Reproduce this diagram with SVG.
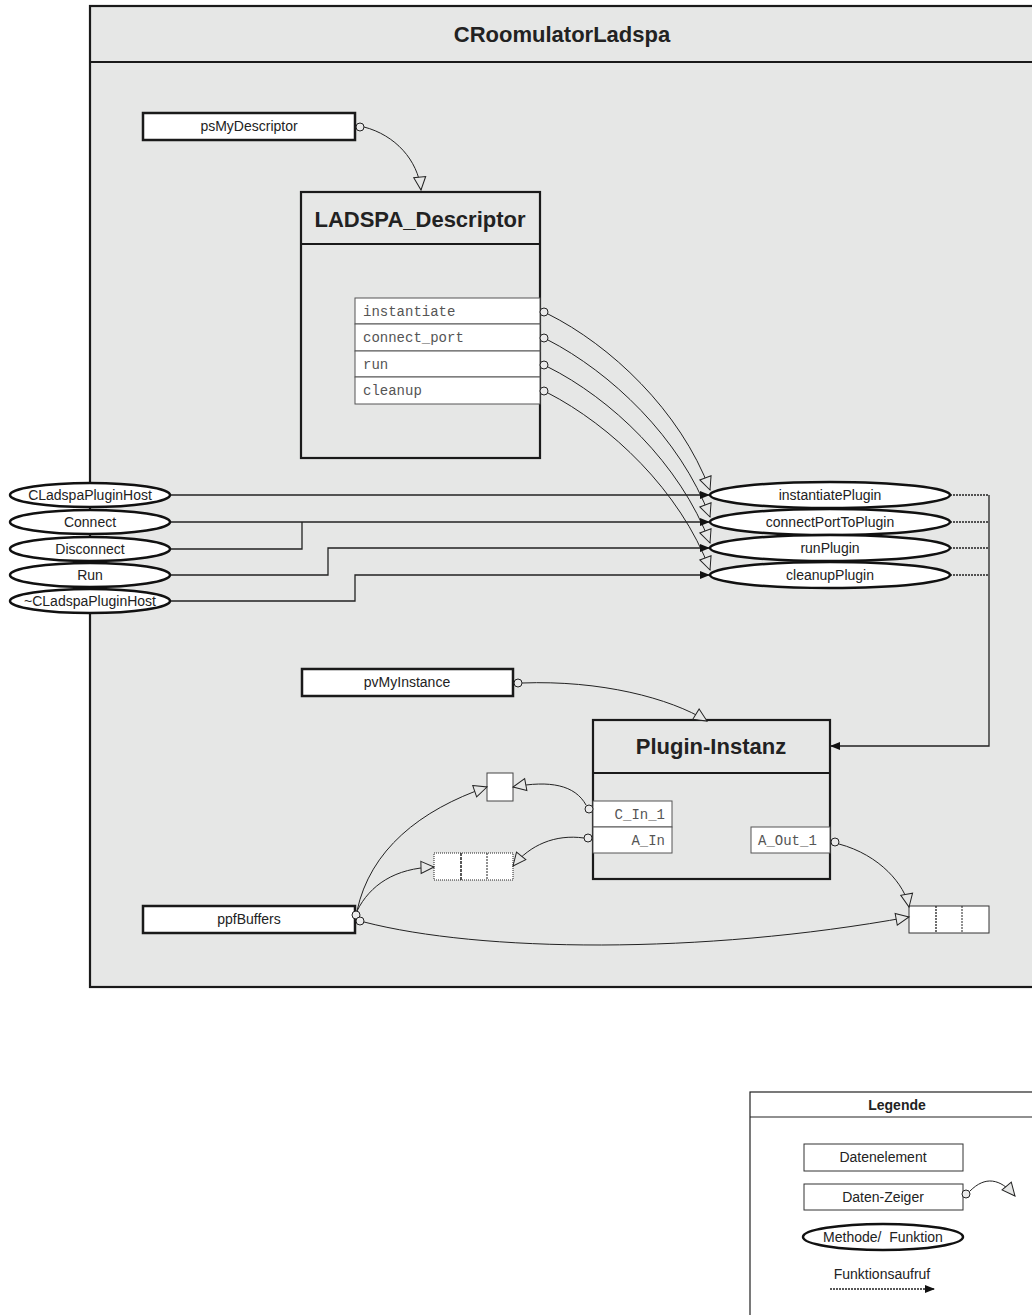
<svg xmlns="http://www.w3.org/2000/svg" width="1032" height="1315" viewBox="0 0 1032 1315">
<defs>
<marker id="open" markerUnits="userSpaceOnUse" markerWidth="16" markerHeight="16" refX="14" refY="7" orient="auto" overflow="visible"><path d="M1,1 L14,7 L1,13 Z" fill="#e6e7e6" stroke="#222" stroke-width="1"/></marker>
<marker id="fill" markerUnits="userSpaceOnUse" markerWidth="12" markerHeight="10" refX="10" refY="4" orient="auto" overflow="visible"><path d="M0,0 L10,4 L0,8 Z" fill="#111"/></marker>
</defs>
<style>
.box{fill:#e6e7e6;stroke:#1a1a1a;stroke-width:2.2}
.data{fill:#fff;stroke:#1a1a1a;stroke-width:2.5}
.row{fill:#fff;stroke:#555;stroke-width:1}
.ell{fill:#fff;stroke:#111;stroke-width:2.5}
.pin{fill:#eaeaea;stroke:#222;stroke-width:1}
.ptr{fill:none;stroke:#222;stroke-width:1;marker-end:url(#open)}
.call{fill:none;stroke:#222;stroke-width:1.3;marker-end:url(#fill)}
.ln{fill:none;stroke:#222;stroke-width:1.3}
.dash{fill:none;stroke:#222;stroke-width:1.3;stroke-dasharray:2 1}
.t{font-family:"Liberation Sans",Arial,sans-serif;font-size:14px;fill:#222;text-anchor:middle}
.h{font-family:"Liberation Sans",Arial,sans-serif;font-size:22px;font-weight:bold;fill:#222;text-anchor:middle}
.m{font-family:"Liberation Mono","Courier New",monospace;font-size:14px;fill:#555}
</style>
<rect x="0" y="0" width="1032" height="1315" fill="#fff"/>

<g id="CRoomulatorLadspa">
<rect class="box" x="90" y="6" width="970" height="981"/>
<line x1="90" y1="62" x2="1060" y2="62" stroke="#1a1a1a" stroke-width="2.2"/>
<text class="h" x="562" y="42">CRoomulatorLadspa</text>
</g>

<g id="psMyDescriptor">
<rect class="data" x="143" y="113" width="212" height="27"/>
<text class="t" x="249" y="131">psMyDescriptor</text>
</g>

<g id="LADSPA_Descriptor">
<rect class="box" x="301" y="192" width="239" height="266"/>
<line x1="301" y1="244" x2="540" y2="244" stroke="#1a1a1a" stroke-width="2.2"/>
<text class="h" x="420" y="227">LADSPA_Descriptor</text>
<rect class="row" x="355" y="298" width="185" height="26"/>
<rect class="row" x="355" y="324" width="185" height="27"/>
<rect class="row" x="355" y="351" width="185" height="26"/>
<rect class="row" x="355" y="377" width="185" height="27"/>
<text class="m" x="363" y="316">instantiate</text>
<text class="m" x="363" y="342">connect_port</text>
<text class="m" x="363" y="369">run</text>
<text class="m" x="363" y="395">cleanup</text>
</g>

<g id="pvMyInstance">
<rect class="data" x="302" y="669" width="211" height="27"/>
<text class="t" x="407" y="687">pvMyInstance</text>
</g>

<g id="Plugin-Instanz">
<rect class="box" x="593" y="720" width="237" height="159"/>
<line x1="593" y1="773" x2="830" y2="773" stroke="#1a1a1a" stroke-width="2.2"/>
<text class="h" x="711" y="754">Plugin-Instanz</text>
<rect class="row" x="593" y="801" width="79" height="26"/>
<rect class="row" x="593" y="827" width="79" height="26"/>
<rect class="row" x="751" y="827" width="79" height="26"/>
<text class="m" x="665" y="819" text-anchor="end">C_In_1</text>
<text class="m" x="665" y="845" text-anchor="end">A_In</text>
<text class="m" x="758" y="845">A_Out_1</text>
</g>

<g id="ctrlBuffer">
<rect x="487" y="773" width="26" height="28" fill="#fff" stroke="#444" stroke-width="1"/>
</g>

<g id="inBuffer">
<rect x="434" y="853" width="79" height="27" fill="#fff" stroke="#222" stroke-width="1" stroke-dasharray="1 1"/>
<line x1="461" y1="853" x2="461" y2="880" stroke="#222" stroke-width="1.5" stroke-dasharray="3 1"/>
<line x1="487" y1="853" x2="487" y2="880" stroke="#222" stroke-width="1" stroke-dasharray="2 1"/>
</g>

<g id="outBuffer">
<rect x="909" y="906" width="80" height="27" fill="#fff" stroke="#333" stroke-width="1"/>
<line x1="936" y1="906" x2="936" y2="933" stroke="#222" stroke-width="1.3" stroke-dasharray="2 1"/>
<line x1="962" y1="906" x2="962" y2="933" stroke="#222" stroke-width="1" stroke-dasharray="2 1"/>
</g>

<g id="ppfBuffers">
<rect class="data" x="143" y="906" width="212" height="27"/>
<text class="t" x="249" y="924">ppfBuffers</text>
</g>

<g id="connectors">
<path class="ptr" d="M364,127 C395,135 418,160 421,190"/>
<path class="ptr" d="M548,314 C610,345 680,410 710,490"/>
<path class="ptr" d="M548,340 C610,372 680,437 710,517"/>
<path class="ptr" d="M548,367 C610,398 680,463 710,543"/>
<path class="ptr" d="M548,393 C610,425 680,490 710,570"/>
<path class="call" d="M170,495 H710"/>
<path class="call" d="M170,522 H710"/>
<path class="ln" d="M170,549 H302 V522"/>
<path class="call" d="M170,575 H328 V548 H710"/>
<path class="call" d="M170,601 H355 V575 H710"/>
<path class="dash" d="M950,495 H989"/>
<path class="dash" d="M950,522 H989"/>
<path class="dash" d="M950,548 H989"/>
<path class="dash" d="M950,575 H989"/>
<path class="call" d="M989,495 V746 H830"/>
<path class="ptr" d="M522,683 C600,680 670,698 707,721"/>
<path class="ptr" d="M586,805 C575,785 550,780 513,787"/>
<path class="ptr" d="M584,838 C555,834 530,845 513,866"/>
<path class="ptr" d="M357,911 C370,850 420,810 487,787"/>
<path class="ptr" d="M357,911 C370,885 395,868 434,867"/>
<path class="ptr" d="M364,922 C480,952 700,955 909,917"/>
<path class="ptr" d="M839,844 C880,855 905,885 909,907"/>
<circle class="pin" cx="360" cy="127" r="4"/>
<circle class="pin" cx="544" cy="312" r="4"/>
<circle class="pin" cx="544" cy="338" r="4"/>
<circle class="pin" cx="544" cy="365" r="4"/>
<circle class="pin" cx="544" cy="391" r="4"/>
<circle class="pin" cx="518" cy="683" r="4"/>
<circle class="pin" cx="589" cy="809" r="4"/>
<circle class="pin" cx="588" cy="838" r="4"/>
<circle class="pin" cx="835" cy="842" r="4"/>
<circle class="pin" cx="356" cy="915" r="4"/>
<circle class="pin" cx="360" cy="921" r="4"/>
</g>

<g id="instantiatePlugin"><ellipse class="ell" cx="830" cy="495" rx="120" ry="13"/><text class="t" x="830" y="500">instantiatePlugin</text></g>
<g id="connectPortToPlugin"><ellipse class="ell" cx="830" cy="522" rx="120" ry="13"/><text class="t" x="830" y="527">connectPortToPlugin</text></g>
<g id="runPlugin"><ellipse class="ell" cx="830" cy="548" rx="120" ry="13"/><text class="t" x="830" y="553">runPlugin</text></g>
<g id="cleanupPlugin"><ellipse class="ell" cx="830" cy="575" rx="120" ry="13"/><text class="t" x="830" y="580">cleanupPlugin</text></g>

<g id="CLadspaPluginHost"><ellipse class="ell" cx="90" cy="495" rx="80" ry="12"/><text class="t" x="90" y="500">CLadspaPluginHost</text></g>
<g id="Connect"><ellipse class="ell" cx="90" cy="522" rx="80" ry="12"/><text class="t" x="90" y="527">Connect</text></g>
<g id="Disconnect"><ellipse class="ell" cx="90" cy="549" rx="80" ry="12"/><text class="t" x="90" y="554">Disconnect</text></g>
<g id="Run"><ellipse class="ell" cx="90" cy="575" rx="80" ry="12"/><text class="t" x="90" y="580">Run</text></g>
<g id="DestructorCLadspaPluginHost"><ellipse class="ell" cx="90" cy="601" rx="80" ry="12"/><text class="t" x="90" y="606">~CLadspaPluginHost</text></g>

<g id="Legende">
<rect x="750" y="1092" width="300" height="240" fill="#fff" stroke="#222" stroke-width="1.2"/>
<line x1="750" y1="1117" x2="1050" y2="1117" stroke="#222" stroke-width="1.2"/>
<text class="t" x="897" y="1110" font-weight="bold">Legende</text>
<rect x="804" y="1144" width="159" height="27" fill="#fff" stroke="#333" stroke-width="1"/>
<text class="t" x="883" y="1162">Datenelement</text>
<rect x="804" y="1184" width="159" height="26" fill="#fff" stroke="#333" stroke-width="1"/>
<text class="t" x="883" y="1202">Daten-Zeiger</text>
<path class="ptr" d="M970,1191 C985,1176 1000,1178 1015,1196"/>
<circle class="pin" cx="966" cy="1194" r="4" fill="#fff"/>
<ellipse class="ell" cx="883" cy="1237" rx="80" ry="13"/>
<text class="t" x="883" y="1242" xml:space="preserve">Methode/  Funktion</text>
<text class="t" x="882" y="1279">Funktionsaufruf</text>
<path class="call" d="M830,1289 H935" stroke-dasharray="2 1"/>
</g>
</svg>
